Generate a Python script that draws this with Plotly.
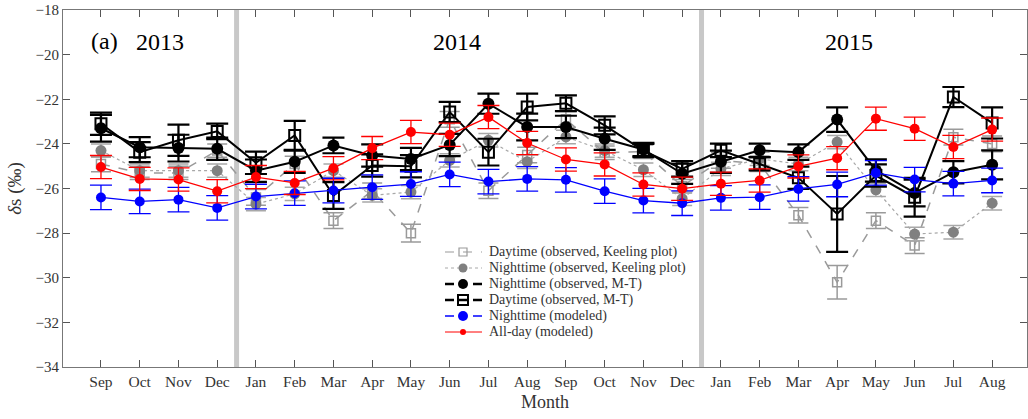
import plotly.graph_objects as go

months = ["Sep","Oct","Nov","Dec","Jan","Feb","Mar","Apr","May","Jun","Jul","Aug",
          "Sep","Oct","Nov","Dec","Jan","Feb","Mar","Apr","May","Jun","Jul","Aug"]
x = list(range(len(months)))

day_keeling = [-24.9,-25.3,-25.3,-24.3,-26.4,-24.9,-27.44,-26.1,-28.0,-22.9,-26.1,-24.5,
               -22.9,-24.4,-24.35,-25.9,-24.74,-24.89,-27.2,-30.2,-27.44,-28.56,-23.7,-24.0]
day_keeling_err = [0.35,0.3,0.3,0.3,0.35,0.35,0.35,0.35,0.4,0.35,0.35,0.35,
                   0.35,0.3,0.3,0.3,0.35,0.35,0.35,0.75,0.35,0.35,0.35,0.35]
night_keeling = [-24.3,-25.2,-25.2,-25.2,-26.7,-26.24,-25.2,-26.31,-26.16,-24.74,-23.84,-24.8,
                 -23.69,-24.3,-25.16,-26.46,-25.12,-24.67,-24.9,-23.92,-26.06,-28.04,-27.96,-26.66]
night_keeling_err = [0.3]*24
night_mt = [-23.3,-24.15,-24.19,-24.22,-25.2,-24.8,-24.07,-24.52,-24.68,-24.05,-22.2,-23.24,
            -23.24,-23.77,-24.25,-25.34,-24.8,-24.29,-24.37,-22.91,-25.19,-26.2,-25.27,-24.94]
night_mt_err = [0.6,0.45,0.6,0.5,0.5,0.5,0.35,0.5,0.5,0.5,0.45,0.6,
                0.5,0.5,0.3,0.45,0.5,0.3,0.35,0.55,0.5,0.6,0.5,0.65]
day_mt = [-23.1,-24.37,-23.84,-23.44,-24.85,-23.62,-26.31,-24.97,-25.0,-22.57,-24.37,-22.35,
          -22.18,-23.17,-24.3,-25.12,-24.29,-24.89,-25.52,-27.14,-25.42,-26.39,-21.9,-23.06]
day_mt_err = [0.5,0.45,0.7,0.35,0.5,0.65,0.6,0.5,0.5,0.45,0.6,0.6,
              0.35,0.4,0.3,0.35,0.3,0.3,0.5,1.7,0.5,0.87,0.45,0.7]
night_model = [-26.4,-26.58,-26.5,-26.87,-26.36,-26.21,-26.09,-25.94,-25.8,-25.37,-25.69,-25.57,
               -25.61,-26.12,-26.54,-26.66,-26.42,-26.39,-26.02,-25.82,-25.3,-25.6,-25.78,-25.64]
night_model_err = [0.55]*24
allday_model = [-25.04,-25.57,-25.6,-26.12,-25.49,-25.75,-25.09,-24.19,-23.47,-23.59,-22.8,-23.96,
                -24.7,-24.92,-25.82,-26.01,-25.79,-25.64,-25.01,-24.64,-22.87,-23.32,-24.14,-23.36]
allday_model_err = [0.52]*24

series_names = ["Daytime (observed, Keeling plot)", "Nighttime (observed, Keeling plot)",
                "Nighttime (observed, M-T)", "Daytime (observed, M-T)",
                "Nighttime (modeled)", "All-day (modeled)"]

yticks = [-34,-32,-30,-28,-26,-24,-22,-20,-18]
year_labels = ["2013","2014","2015"]
year_pos = [1.52, 9.2, 19.3]
year_breaks = [3.5, 15.5]

FONT = "Liberation Serif"
GRAY_D = "#9a9a9a"
GRAY_N = "#808080"

styles = [
    dict(line=dict(color=GRAY_D, width=1.5, dash="dash"),
         marker=dict(symbol="square-open", size=9, color=GRAY_D, line=dict(width=1.5)),
         err=dict(color=GRAY_D, thickness=1.5, width=10)),
    dict(line=dict(color="#a8a8a8", width=1.2, dash="dot"),
         marker=dict(symbol="circle", size=11, color=GRAY_N),
         err=dict(color="#a8a8a8", thickness=1.5, width=10)),
    dict(line=dict(color="black", width=2),
         marker=dict(symbol="circle", size=12, color="black"),
         err=dict(color="black", thickness=2.2, width=11)),
    dict(line=dict(color="black", width=2),
         marker=dict(symbol="square-open", size=11, color="black", line=dict(width=2)),
         err=dict(color="black", thickness=2.2, width=11)),
    dict(line=dict(color="#0000ff", width=1.3),
         marker=dict(symbol="circle", size=10, color="#0000ff"),
         err=dict(color="#0000ff", thickness=1.3, width=11)),
    dict(line=dict(color="#ff0000", width=1.3),
         marker=dict(symbol="circle", size=10, color="#ff0000"),
         err=dict(color="#ff0000", thickness=1.3, width=11)),
]
values = [day_keeling, night_keeling, night_mt, day_mt, night_model, allday_model]
errors = [day_keeling_err, night_keeling_err, night_mt_err, day_mt_err, night_model_err, allday_model_err]

fig = go.Figure()
for name, vals, errs, st in zip(series_names, values, errors, styles):
    fig.add_trace(go.Scatter(
        x=x, y=vals, name=name, mode="lines+markers", line=st["line"], marker=st["marker"],
        error_y=dict(type="data", array=errs, **st["err"]), showlegend=False))

# manual legend keys on an overlay axis measured in pixels
leg_y = [252, 268, 284, 300, 316, 332]
leg_x0, leg_xm, leg_x1, leg_text = 445, 463, 482, 487
key_styles = [
    dict(line=dict(color=GRAY_D, width=1.2, dash="dash"), split=False, inner=False,
         marker=dict(symbol="square-open", size=8, color=GRAY_D, line=dict(width=1.2))),
    dict(line=dict(color="#a8a8a8", width=1.0, dash="dot"), split=False, inner=False,
         marker=dict(symbol="circle", size=9, color=GRAY_N)),
    dict(line=dict(color="black", width=2.5), split=True, inner=False,
         marker=dict(symbol="circle", size=10, color="black")),
    dict(line=dict(color="black", width=2.5), split=True, inner=True,
         marker=dict(symbol="square-open", size=10, color="black", line=dict(width=2))),
    dict(line=dict(color="#0000ff", width=1.5), split=True, inner=False,
         marker=dict(symbol="circle", size=10, color="#0000ff")),
    dict(line=dict(color="#ff0000", width=1.0), split=False, inner=False,
         marker=dict(symbol="circle", size=6, color="#ff0000")),
]
for yy, ks, name in zip(leg_y, key_styles, series_names):
    if ks["split"]:
        lx = [leg_x0, leg_x0 + 9, None, leg_x1 - 9, leg_x1]
        ly = [yy, yy, None, yy, yy]
    else:
        lx = [leg_x0, leg_x1]
        ly = [yy, yy]
    if ks["inner"]:
        lx += [None, leg_xm - 4, leg_xm + 4]
        ly += [None, yy, yy]
    fig.add_trace(go.Scatter(x=lx, y=ly, mode="lines", line=ks["line"], xaxis="x2", yaxis="y2",
                             showlegend=False, hoverinfo="skip"))
    fig.add_trace(go.Scatter(x=[leg_xm], y=[yy], mode="markers", marker=ks["marker"],
                             xaxis="x2", yaxis="y2", showlegend=False, hoverinfo="skip"))
    fig.add_annotation(x=leg_text, y=yy, xref="x2", yref="y2", text=name, showarrow=False,
                       xanchor="left", yanchor="middle",
                       font=dict(family=FONT, size=14, color="#333333"))

for xb in year_breaks:
    fig.add_shape(type="line", x0=xb, x1=xb, y0=0, y1=1, xref="x", yref="paper",
                  line=dict(color="#c8c8c8", width=5), layer="below")

fig.add_annotation(x=0.1, y=-19.4, xref="x", yref="y", text="(a)", showarrow=False,
                   font=dict(family=FONT, size=24, color="black"))
for t, p in zip(year_labels, year_pos):
    fig.add_annotation(x=p, y=-19.45, xref="x", yref="y", text=t, showarrow=False,
                       font=dict(family=FONT, size=24, color="black"))

fig.update_layout(
    width=1028, height=419,
    margin=dict(l=63, r=1, t=10, b=52),
    paper_bgcolor="white", plot_bgcolor="white",
    font=dict(family=FONT, size=15, color="#333333"),
    showlegend=False,
    xaxis=dict(range=[-0.98, 23.9], tickvals=x, ticktext=months, ticks="inside", ticklen=7,
               tickcolor="#555555", showgrid=False, zeroline=False, showline=True, linecolor="#777777",
               linewidth=1.2, mirror="ticks", tickfont=dict(size=15.5),
               title=dict(text="Month", font=dict(family=FONT, size=18, color="#333333"), standoff=6)),
    yaxis=dict(range=[-34, -18], tickvals=yticks, ticks="inside", ticklen=7, tickcolor="#555555",
               showgrid=False, zeroline=False, showline=True, linecolor="#777777", linewidth=1.2,
               mirror="ticks", tickfont=dict(size=15),
               title=dict(text="<i>δ</i>s (‰)", font=dict(family=FONT, size=19, color="#333333"), standoff=8)),
    xaxis2=dict(range=[63, 1027], overlaying="x", anchor="y2", visible=False, fixedrange=True),
    yaxis2=dict(range=[367, 10], overlaying="y", anchor="x2", visible=False, fixedrange=True),
)

fig.write_html("out.html")
